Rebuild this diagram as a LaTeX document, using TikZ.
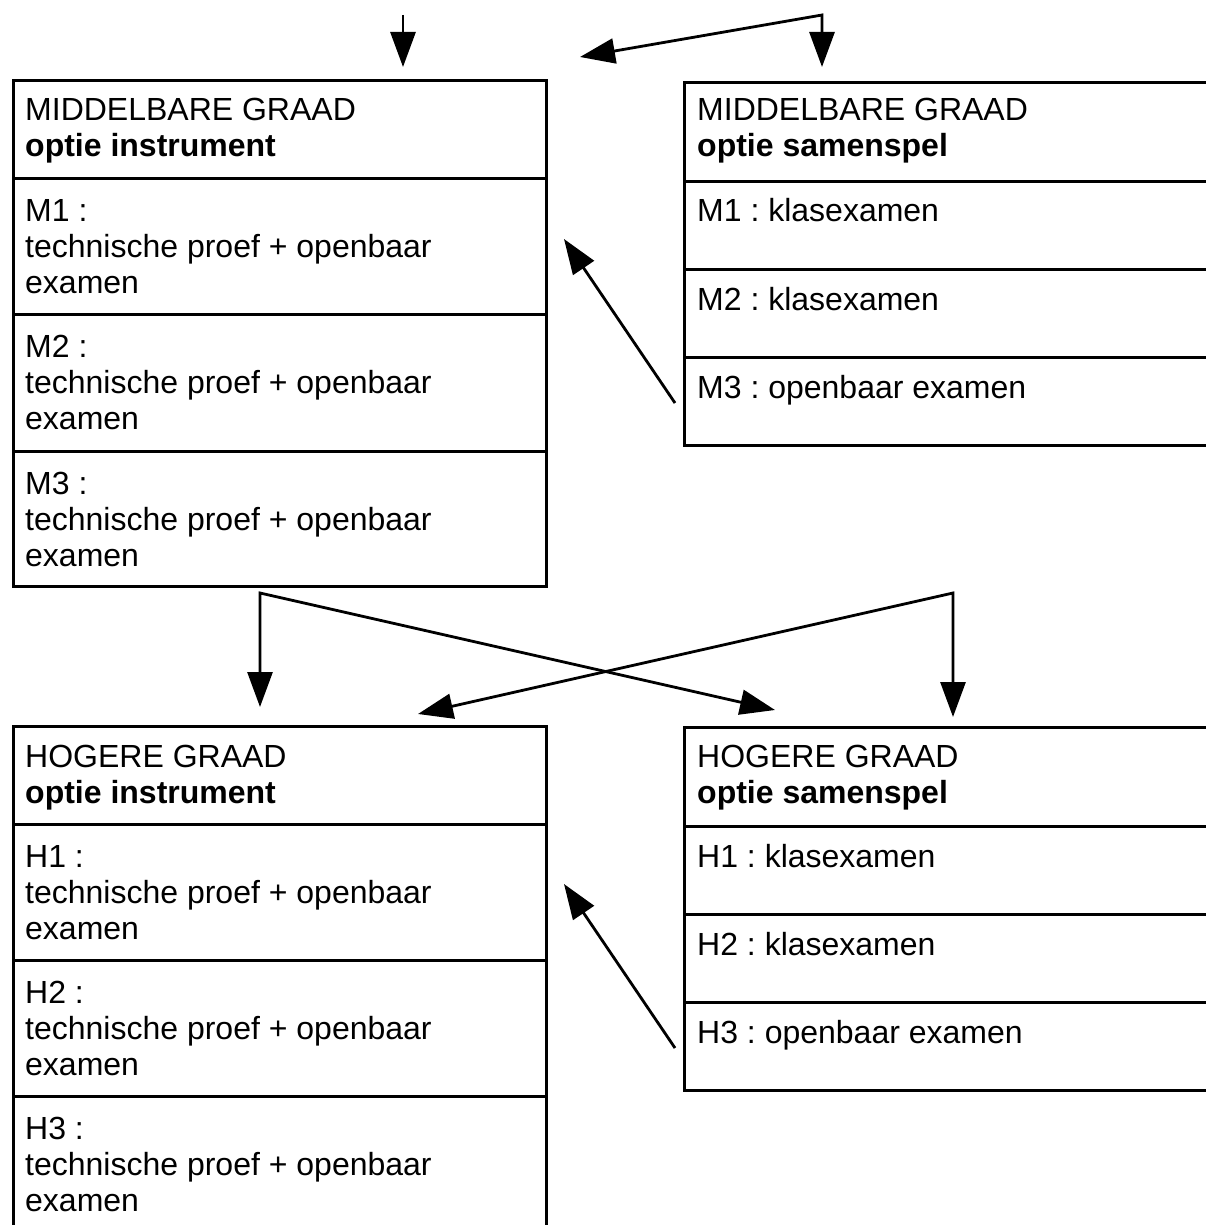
\documentclass[tikz,border=0pt]{standalone}
\usepackage{fontspec}
\setmainfont{Liberation Sans}
\usetikzlibrary{arrows.meta,calc}
\frenchspacing
\begin{document}
\begin{tikzpicture}[x=1pt,y=-1pt,
  box/.style={draw, line width=2.6pt, rectangle, inner sep=0pt, anchor=north west},
  txt/.style={anchor=base west, inner sep=0pt, align=left, font=\fontsize{32}{36}\selectfont},
  arr/.style={line width=2.8pt, -{Triangle[length=35pt,width=25pt]}},
  arrtwo/.style={line width=2.8pt, {Triangle[length=35pt,width=25pt]}-{Triangle[length=35pt,width=25pt]}},
]
\useasboundingbox (0,0) rectangle (1206,1225);
\clip (0,0) rectangle (1206,1225);

% ---- top-left: middelbare graad, optie instrument
\node[box, minimum width=533pt, minimum height=98pt]  (mih) at (12,79)  {};
\node[box, minimum width=533pt, minimum height=136pt] (mi1) at (12,177) {};
\node[box, minimum width=533pt, minimum height=137pt] (mi2) at (12,313) {};
\node[box, minimum width=533pt, minimum height=135pt] (mi3) at (12,450) {};
% (base anchor of a multi-line node = baseline of its last line)
\node[txt] (mihT) at ($(mih.north west)+(13,78)$) {MIDDELBARE GRAAD\\\textbf{optie instrument}};
\node[txt] (mi1T) at ($(mi1.north west)+(13,116)$) {M1 :\\technische proef + openbaar\\examen};
\node[txt] (mi2T) at ($(mi2.north west)+(13,116)$) {M2 :\\technische proef + openbaar\\examen};
\node[txt] (mi3T) at ($(mi3.north west)+(13,116)$) {M3 :\\technische proef + openbaar\\examen};

% ---- top-right: middelbare graad, optie samenspel
\node[box, minimum width=560pt, minimum height=99pt] (msh) at (683,81)  {};
\node[box, minimum width=560pt, minimum height=88pt] (ms1) at (683,180) {};
\node[box, minimum width=560pt, minimum height=88pt] (ms2) at (683,268) {};
\node[box, minimum width=560pt, minimum height=88pt] (ms3) at (683,356) {};
\node[txt] (mshT) at ($(msh.north west)+(14,76)$) {MIDDELBARE GRAAD\\\textbf{optie samenspel}};
\node[txt] (ms1T) at ($(ms1.north west)+(14,41)$) {M1 : klasexamen};
\node[txt] (ms2T) at ($(ms2.north west)+(14,42)$) {M2 : klasexamen};
\node[txt] (ms3T) at ($(ms3.north west)+(14,42)$) {M3 : openbaar examen};

% ---- bottom-left: hogere graad, optie instrument
\node[box, minimum width=533pt, minimum height=98pt]  (hih) at (12,725)  {};
\node[box, minimum width=533pt, minimum height=136pt] (hi1) at (12,823)  {};
\node[box, minimum width=533pt, minimum height=136pt] (hi2) at (12,959)  {};
\node[box, minimum width=533pt, minimum height=150pt] (hi3) at (12,1095) {};
\node[txt] (hihT) at ($(hih.north west)+(13,78)$) {HOGERE GRAAD\\\textbf{optie instrument}};
\node[txt] (hi1T) at ($(hi1.north west)+(13,116)$) {H1 :\\technische proef + openbaar\\examen};
\node[txt] (hi2T) at ($(hi2.north west)+(13,116)$) {H2 :\\technische proef + openbaar\\examen};
\node[txt] (hi3T) at ($(hi3.north west)+(13,116)$) {H3 :\\technische proef + openbaar\\examen};

% ---- bottom-right: hogere graad, optie samenspel
\node[box, minimum width=560pt, minimum height=99pt] (hsh) at (683,726)  {};
\node[box, minimum width=560pt, minimum height=88pt] (hs1) at (683,825)  {};
\node[box, minimum width=560pt, minimum height=88pt] (hs2) at (683,913)  {};
\node[box, minimum width=560pt, minimum height=88pt] (hs3) at (683,1001) {};
\node[txt] (hshT) at ($(hsh.north west)+(14,77)$) {HOGERE GRAAD\\\textbf{optie samenspel}};
\node[txt] (hs1T) at ($(hs1.north west)+(14,42)$) {H1 : klasexamen};
\node[txt] (hs2T) at ($(hs2.north west)+(14,42)$) {H2 : klasexamen};
\node[txt] (hs3T) at ($(hs3.north west)+(14,42)$) {H3 : openbaar examen};

% ---- connector coordinates
\coordinate (inL)   at (403,15);
\coordinate (inLt)  at (403,67);
\coordinate (inR)   at (822,15);
\coordinate (inRt)  at (822,67);
\coordinate (inRl)  at (580,57);
\coordinate (outL)  at (260,593);
\coordinate (outLd) at (260,707);
\coordinate (outLx) at (775,710);
\coordinate (outR)  at (953,593);
\coordinate (outRd) at (953,717);
\coordinate (outRx) at (418,714);
\coordinate (upM)   at (675,403);
\coordinate (upMt)  at (564,239);
\coordinate (upH)   at (675,1048);
\coordinate (upHt)  at (564,884);

\draw[arr] (inL) -- (inLt);
\draw[arrtwo] (inRl) -- (inR) -- (inRt);
\draw[arrtwo] (outLd) -- (outL) -- (outLx);
\draw[arrtwo] (outRx) -- (outR) -- (outRd);
\draw[arr] (upM) -- (upMt);
\draw[arr] (upH) -- (upHt);
\end{tikzpicture}
\end{document}
